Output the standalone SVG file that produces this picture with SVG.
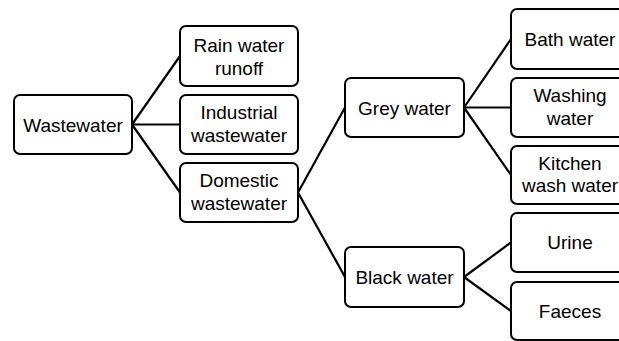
<svg xmlns="http://www.w3.org/2000/svg" width="619" height="341" viewBox="0 0 619 341">
<style>
.box{fill:#fff;stroke:#000;stroke-width:2}
.t{font-family:"Liberation Sans",Arial,sans-serif;font-size:19px;fill:#000;text-anchor:middle}
.c line{stroke:#000;stroke-width:2.2}
</style>
<rect width="619" height="341" fill="#fff"/>
<g class="c" id="connectors">
<line x1="132" y1="124.5" x2="180" y2="56"/>
<line x1="132" y1="124.5" x2="180" y2="124.5"/>
<line x1="132" y1="124.5" x2="180" y2="192.5"/>
<line x1="298" y1="192.5" x2="345" y2="107.5"/>
<line x1="298" y1="192.5" x2="345" y2="277"/>
<line x1="464" y1="107.5" x2="511" y2="39"/>
<line x1="464" y1="107.5" x2="511" y2="107.5"/>
<line x1="464" y1="107.5" x2="511" y2="175"/>
<line x1="464" y1="277" x2="511" y2="242.5"/>
<line x1="464" y1="277" x2="511" y2="311"/>
</g>
<g id="wastewater"><rect class="box" x="14" y="95" width="118" height="59" rx="6"/><text class="t" x="73" y="131.5">Wastewater</text></g>
<g id="rain"><rect class="box" x="180" y="26" width="118" height="60" rx="6"/><text class="t" x="239" y="52">Rain water</text><text class="t" x="239" y="74.5">runoff</text></g>
<g id="industrial"><rect class="box" x="180" y="95" width="118" height="59" rx="6"/><text class="t" x="239" y="119">Industrial</text><text class="t" x="239" y="141.5">wastewater</text></g>
<g id="domestic"><rect class="box" x="180" y="163" width="118" height="59" rx="6"/><text class="t" x="239" y="187">Domestic</text><text class="t" x="239" y="209.5">wastewater</text></g>
<g id="grey"><rect class="box" x="345" y="78" width="119" height="59" rx="6"/><text class="t" x="404.5" y="114.5">Grey water</text></g>
<g id="black"><rect class="box" x="345" y="247" width="119" height="60" rx="6"/><text class="t" x="404.5" y="283.5">Black water</text></g>
<g id="bath"><rect class="box" x="511" y="9" width="118" height="60" rx="6"/><text class="t" x="570" y="45.5">Bath water</text></g>
<g id="washing"><rect class="box" x="511" y="78" width="118" height="59" rx="6"/><text class="t" x="570" y="102">Washing</text><text class="t" x="570" y="124.5">water</text></g>
<g id="kitchen"><rect class="box" x="511" y="146" width="118" height="58" rx="6"/><text class="t" x="570" y="169.5">Kitchen</text><text class="t" x="570" y="192">wash water</text></g>
<g id="urine"><rect class="box" x="511" y="213" width="118" height="59" rx="6"/><text class="t" x="570" y="249">Urine</text></g>
<g id="faeces"><rect class="box" x="511" y="282" width="118" height="58" rx="6"/><text class="t" x="570" y="318">Faeces</text></g>
</svg>
